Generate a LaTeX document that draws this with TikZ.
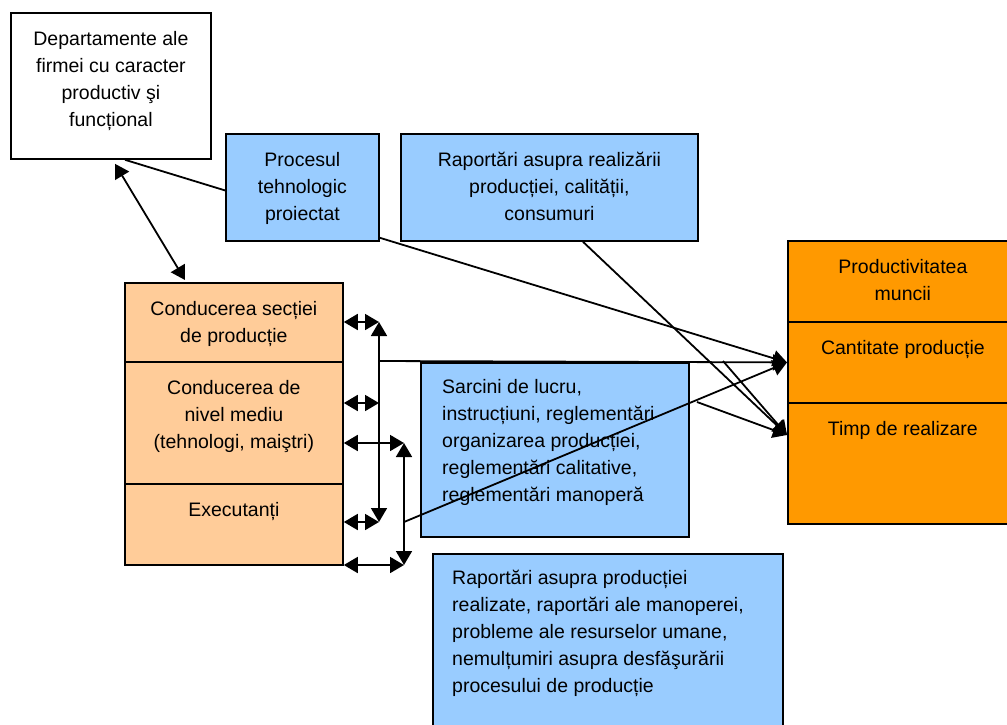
\documentclass[tikz,border=0pt]{standalone}
\usepackage{fontspec}
\setmainfont{Liberation Sans}
\usetikzlibrary{arrows.meta,calc}
\definecolor{paleBlue}{HTML}{99CCFF}
\definecolor{paleOrange}{HTML}{FFCC99}
\definecolor{deepOrange}{HTML}{FF9900}
\newcommand{\boxText}[2]{%%
  %% Centred text hanging from the top of a box.
  \node[textStyle] (#1Text) at ([yshift=-19pt]#1.north) {#2};
}
\newcommand{\boxTextLeft}[3]{%%
  %% Left aligned text hanging from the top left corner of a box.
  \node[textStyle,anchor=north west,align=left] (#1Text) at ([xshift=#2,yshift=-17pt]#1.north west) {#3};
}

\begin{document}
\begin{tikzpicture}[x=1pt,y=-1pt,%%
  boxStyle/.style={draw=black,line width=1.8pt,rectangle,anchor=north west,inner sep=0pt},%%
  textStyle/.style={anchor=north,align=center,inner sep=0pt,font=\fontsize{19.5}{27}\selectfont},%%
  lineStyle/.style={line width=1.8pt},%%
  arrowStyle/.style={lineStyle,-{Triangle[length=14pt,width=16pt]}},%%
  twoWay/.style={lineStyle,{Triangle[length=14pt,width=16pt]}-{Triangle[length=14pt,width=16pt]}}
]
\useasboundingbox (0,0) rectangle (1007,724);
%%
%% Results on the right.
\node[boxStyle,fill=deepOrange,minimum width=230pt,minimum height=81pt] (prod) at (787,240) {};
\node[boxStyle,fill=deepOrange,minimum width=230pt,minimum height=81pt] (cant) at (787,321) {};
\node[boxStyle,fill=deepOrange,minimum width=230pt,minimum height=121pt] (timp) at (787,402) {};
\coordinate (timpIn) at ([yshift=-33pt]timp.north west);
%%
%% Departments, and the line that runs behind the process box.
\node[boxStyle,fill=white,minimum width=200pt,minimum height=146pt] (dept) at (10,12) {};
\draw[arrowStyle] ([xshift=115pt]dept.south west) -- (cant.west);
\node[boxStyle,fill=paleBlue,minimum width=153pt,minimum height=107pt] (proc) at (225,133) {};
\node[boxStyle,fill=paleBlue,minimum width=297pt,minimum height=107pt] (rapReal) at (400,133) {};
%%
%% Management levels.
\node[boxStyle,fill=paleOrange,minimum width=218pt,minimum height=79pt] (sectie) at (124,282) {};
\node[boxStyle,fill=paleOrange,minimum width=218pt,minimum height=122pt] (mediu) at (124,361) {};
\node[boxStyle,fill=paleOrange,minimum width=218pt,minimum height=81pt] (exec) at (124,483) {};
%%
%% Flows of information.
\node[boxStyle,fill=paleBlue,minimum width=268pt,minimum height=174pt] (sarcini) at (420,362) {};
\node[boxStyle,fill=paleBlue,minimum width=350pt,minimum height=200pt] (rapProd) at (432,553) {};
%%
%% Texts.
\boxText{dept}{Departamente ale\\firmei cu caracter\\productiv şi\\funcțional}
\boxText{proc}{Procesul\\tehnologic\\proiectat}
\boxText{rapReal}{Raportări asupra realizării\\producției, calității,\\consumuri}
\boxText{sectie}{Conducerea secției\\de producție}
\boxText{mediu}{Conducerea de\\nivel mediu\\(tehnologi, maiştri)}
\boxText{exec}{Executanți}
\boxText{prod}{Productivitatea\\muncii}
\boxText{cant}{Cantitate producție}
\boxText{timp}{Timp de realizare}
\boxTextLeft{sarcini}{22pt}{Sarcini de lucru,\\instrucțiuni, reglementări\\organizarea producției,\\reglementări calitative,\\reglementări manoperă}
\boxTextLeft{rapProd}{20pt}{Raportări asupra producției\\realizate, raportări ale manoperei,\\probleme ale resurselor umane,\\nemulțumiri asupra desfăşurării\\procesului de producție}
%%
%% Bus lines beside the management levels.
\coordinate (busOneTop) at (379,322);
\coordinate (busOneMid) at (379,403);
\coordinate (busOneLow) at (379,522);
\coordinate (busOneOut) at (379,361);
\coordinate (busTwoTop) at (404,443);
\coordinate (busTwoLow) at (404,565);
\coordinate (busTwoOut) at (404,522);
\coordinate (forkA) at (723,361);
\coordinate (forkB) at (697,402);
%%
\draw[twoWay] ([xshift=105pt,yshift=-4pt]dept.south west) -- ([xshift=61pt,yshift=2pt]sectie.north west);
\draw[twoWay] (busOneTop) -- (busOneLow);
\draw[twoWay] (busTwoTop) -- (busTwoLow);
\draw[twoWay] (sectie.east |- busOneTop) -- (busOneTop);
\draw[twoWay] (mediu.east |- busOneMid) -- (busOneMid);
\draw[twoWay] (mediu.east |- busTwoTop) -- (busTwoTop);
\draw[twoWay] (exec.east |- busOneLow) -- (busOneLow);
\draw[twoWay] (exec.east |- busTwoLow) -- (busTwoLow);
%%
\draw[arrowStyle] (busOneOut) -- (cant.west);
\draw[arrowStyle] (busTwoOut) -- (cant.west);
\draw[arrowStyle] ([xshift=183pt]rapReal.south west) -- (timpIn);
\draw[arrowStyle] (forkA) -- (timpIn);
\draw[arrowStyle] (forkB) -- (timpIn);
\end{tikzpicture}
\end{document}
